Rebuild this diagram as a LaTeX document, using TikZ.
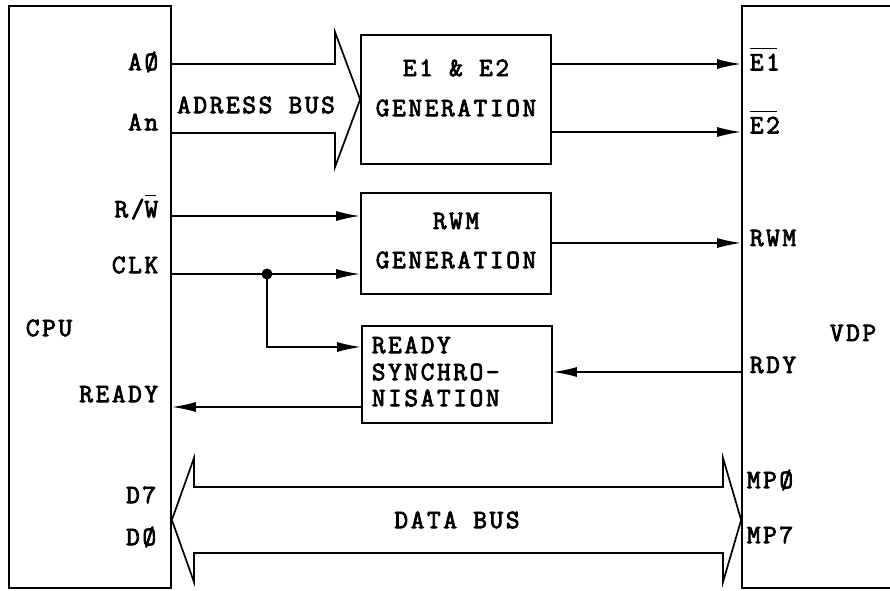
\documentclass[tikz,border=0pt]{standalone}
\usepackage{fontspec}
\setmonofont{Latin Modern Mono}[FakeBold=3, LetterSpace=10]
\usetikzlibrary{arrows.meta}
\newcommand\sigfont{\ttfamily\fontsize{26.5}{30}\selectfont}
\newcommand\ovl[1]{\setbox0\hbox{#1}\rlap{\raisebox{0.8em}{\rule{\dimexpr\wd0-0.1em\relax}{1.5pt}}}\box0}
\begin{document}
\begin{tikzpicture}[x=1pt,y=-1pt,line width=1.7pt,
  blk/.style={draw,line width=1.7pt,inner sep=0pt},
  lbl/.style={font=\sigfont,inner sep=0pt},
  arr/.style={-{Latex[length=24pt,width=10pt]}},
  fat/.style={line join=miter}]
\useasboundingbox (0,0) rectangle (890,590);
% main boxes
\node[blk,minimum width=162pt,minimum height=582pt] (cpu) at (90,297) {};
\node[blk,minimum width=178pt,minimum height=582pt] (vdp) at (831,297) {};
\node[blk,minimum width=190pt,minimum height=129pt] (e12) at (456,99.5) {};
\node[blk,minimum width=190pt,minimum height=101pt] (rwm) at (456,243.5) {};
\node[blk,minimum width=190pt,minimum height=97pt] (rdy) at (457,374.5) {};
% levels
\coordinate (yA0) at (0,64);
\coordinate (yAn) at (0,133);
\coordinate (yE2) at (0,132);
\coordinate (yRW) at (0,216);
\coordinate (yCLK) at (0,274);
\coordinate (yRWM) at (0,243);
\coordinate (yBR) at (0,347);
\coordinate (yRDY) at (0,372);
\coordinate (yREADY) at (0,407);
\coordinate (yDB) at (0,520);
\coordinate (br) at (267,274);
% address bus
\draw[fat] (cpu.east |- yA0) -- (335,64) -- (335,32) -- (e12.west) -- (335,167) -- (335,133) -- (cpu.east |- yAn);
% data bus
\draw[fat] (cpu.east |- yDB) -- (194,458) -- (194,487) -- (723,487) -- (723,458) -- (vdp.west |- yDB)
  -- (723,582) -- (723,553) -- (194,553) -- (194,582) -- cycle;
% signal arrows
\draw[arr] (e12.east |- yA0) -- (vdp.west |- yA0);
\draw[arr] (e12.east |- yE2) -- (vdp.west |- yE2);
\draw[arr] (cpu.east |- yRW) -- (rwm.west |- yRW);
\draw[arr] (cpu.east |- yCLK) -- (rwm.west |- yCLK);
\fill (br) circle (5.5);
\draw[arr] (br) |- (rdy.west |- yBR);
\draw[arr] (rwm.east |- yRWM) -- (vdp.west |- yRWM);
\draw[arr] (vdp.west |- yRDY) -- (rdy.east |- yRDY);
\draw[arr] (rdy.west |- yREADY) -- (cpu.east |- yREADY);
% CPU side labels
\node[lbl,anchor=east] (lA0) at (159,62) {AØ};
\node[lbl,anchor=east] (lAn) at (159,122) {An};
\node[lbl,anchor=east] (lRW) at (159,207) {R/\ovl{W}};
\node[lbl,anchor=east] (lCLK) at (159,265) {CLK};
\node[lbl,anchor=east] (lREADY) at (159,394) {READY};
\node[lbl,anchor=east] (lD7) at (157,495) {D7};
\node[lbl,anchor=east] (lD0) at (157,537) {DØ};
\node[lbl] (lCPU) at (49,328) {CPU};
% VDP side labels
\node[lbl,anchor=west] (lE1) at (749,59) {\ovl{E1}};
\node[lbl,anchor=west] (lE2) at (749,122) {\ovl{E2}};
\node[lbl,anchor=west] (lRWMo) at (749,238) {RWM};
\node[lbl,anchor=west] (lRDY) at (749,365) {RDY};
\node[lbl,anchor=west] (lMP0) at (746,480) {MPØ};
\node[lbl,anchor=west] (lMP7) at (746,535) {MP7};
\node[lbl] (lVDP) at (853,333) {VDP};
% bus and block texts
\node[lbl] (tAB) at (256,105) {ADRESS BUS};
\node[lbl] (tDB) at (457,520) {DATA BUS};
\node[lbl] (tE1) at (456,68) {E1 \& E2};
\node[lbl] (tE2) at (456,108) {GENERATION};
\node[lbl] (tR1) at (456,221) {RWM};
\node[lbl] (tR2) at (456,260) {GENERATION};
\node[lbl,anchor=west] (tS1) at (371,345) {READY};
\node[lbl,anchor=west] (tS2) at (371,372) {SYNCHRO-};
\node[lbl,anchor=west] (tS3) at (371,398) {NISATION};
\end{tikzpicture}
\end{document}
